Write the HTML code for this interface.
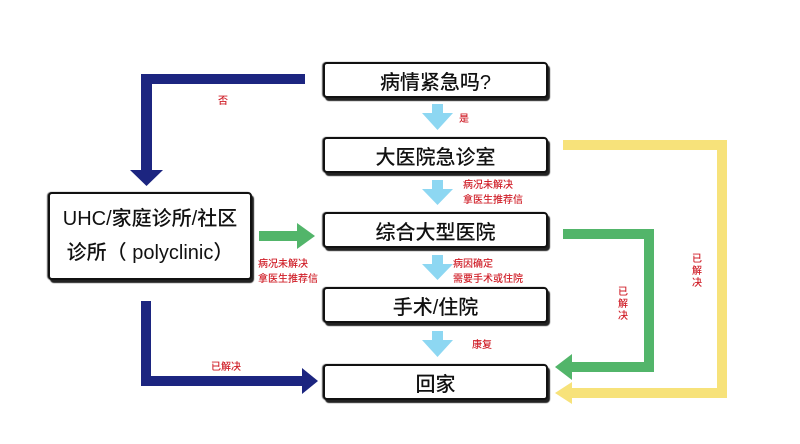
<!DOCTYPE html>
<html><head><meta charset="utf-8"><style>
body{margin:0;background:#fff;}
.b{position:absolute;background:#fff;border:2px solid #111;border-radius:4px;box-shadow:2px 3px 1px #222,-1px 0 1px #555;font-family:"Liberation Sans","Noto Sans CJK SC",sans-serif;font-size:20px;font-weight:500;display:flex;align-items:center;justify-content:center;color:#111;box-sizing:border-box;}
.l{position:absolute;font-family:"Noto Sans CJK SC",sans-serif;color:#d0202a;font-size:10px;line-height:15px;font-weight:500;}
.v{line-height:12px;width:11px}
</style></head><body>
<div style="position:relative;width:800px;height:444px;overflow:hidden">
<svg width="800" height="444" style="position:absolute;left:0;top:0">
<g fill="#1c2580">
<rect x="141" y="74" width="164" height="10"/><rect x="141" y="74" width="11" height="98"/>
<polygon points="130,170 163,170 146.5,186"/>
<rect x="141" y="301" width="10" height="85"/><rect x="141" y="376" width="162" height="10"/>
<polygon points="302,368 302,394 318,381"/>
</g>
<g fill="#f7e27a">
<rect x="563" y="140" width="164" height="10"/><rect x="717" y="140" width="10" height="258"/>
<rect x="572" y="388" width="155" height="10"/><polygon points="572,382 572,404 555,393"/>
</g>
<g fill="#52b56a">
<rect x="563" y="229" width="91" height="10"/><rect x="644" y="229" width="10" height="143"/>
<rect x="572" y="362" width="82" height="10"/><polygon points="572,354 572,380 555,367"/>
<rect x="259" y="231" width="38" height="10"/><polygon points="297,223 297,249 315,236"/>
</g>
<g fill="#8dd7f2">
<rect x="432" y="104" width="11" height="10"/><polygon points="422,113 453,113 437.5,130"/>
<rect x="432" y="180" width="11" height="10"/><polygon points="422,189 453,189 437.5,205"/>
<rect x="432" y="255" width="11" height="10"/><polygon points="422,264 453,264 437.5,280"/>
<rect x="432" y="331" width="11" height="10"/><polygon points="422,340 453,340 437.5,357"/>
</g>
</svg>
<div class="b" style="left:323px;top:62px;width:225px;height:36px">病情紧急吗?</div>
<div class="b" style="left:323px;top:137px;width:225px;height:36px">大医院急诊室</div>
<div class="b" style="left:323px;top:212px;width:225px;height:36px">综合大型医院</div>
<div class="b" style="left:323px;top:287px;width:225px;height:36px">手术/住院</div>
<div class="b" style="left:323px;top:364px;width:225px;height:36px">回家</div>
<div class="b" style="left:48px;top:192px;width:204px;height:88px;flex-direction:column;line-height:34px;font-size:20px"><div>UHC/家庭诊所/社区</div><div>诊所（ polyclinic）</div></div>
<div class="l" style="left:459px;top:110px">是</div>
<div class="l" style="left:463px;top:176px">病况未解决<br>拿医生推荐信</div>
<div class="l" style="left:453px;top:255px">病因确定<br>需要手术或住院</div>
<div class="l" style="left:472px;top:336px">康复</div>
<div class="l" style="left:218px;top:92px">否</div>
<div class="l" style="left:211px;top:358px">已解决</div>
<div class="l" style="left:258px;top:255px">病况未解决<br>拿医生推荐信</div>
<div class="l v" style="left:618px;top:285px">已解决</div>
<div class="l v" style="left:692px;top:252px">已解决</div>
</div>
</body></html>
